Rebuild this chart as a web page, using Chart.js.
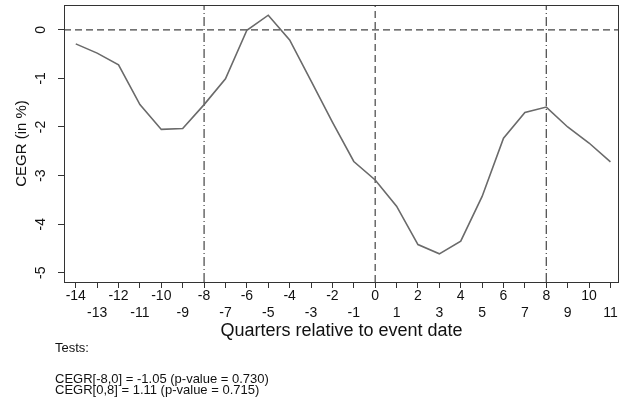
<!DOCTYPE html>
<html>
<head>
<meta charset="utf-8">
<script src="https://cdn.jsdelivr.net/npm/chart.js@4.4.1/dist/chart.umd.min.js"></script>
<style>
  html, body { margin: 0; padding: 0; background: #ffffff; }
  #wrap { width: 621px; height: 408px; }
</style>
</head>
<body>
<div id="wrap"><canvas id="c" width="621" height="408"></canvas></div>
<script>
// ---- data ----
const quarters = [-14,-13,-12,-11,-10,-9,-8,-7,-6,-5,-4,-3,-2,-1,0,1,2,3,4,5,6,7,8,9,10,11];
const cegr = [-0.29,-0.48,-0.72,-1.54,-2.05,-2.03,-1.54,-1.01,-0.01,0.30,-0.21,-1.05,-1.90,-2.71,-3.09,-3.63,-4.42,-4.61,-4.35,-3.43,-2.23,-1.70,-1.59,-2.00,-2.33,-2.72];
const yTicks = [-5,-4,-3,-2,-1,0];
const dashedVLines = [0];
const dashDotVLines = [-8, 8];
const hLines = [0];
const xLabel = 'Quarters relative to event date';
const yLabel = 'CEGR (in %)';
const testLines = ['Tests:', 'CEGR[-8,0] = -1.05 (p-value = 0.730)', 'CEGR[0,8] = 1.11 (p-value = 0.715)'];

const X_MIN = -14.55, X_MAX = 11.4, Y_MIN = -5.19, Y_MAX = 0.51;
const FONT = '"Liberation Sans", Arial, Helvetica, sans-serif';

const refSets = [];
hLines.forEach(v => refSets.push({
  data: [{x: X_MIN, y: v}, {x: X_MAX, y: v}],
  borderColor: '#444', borderWidth: 1.2, borderDash: [7, 4], pointRadius: 0, fill: false
}));
dashedVLines.forEach(v => refSets.push({
  data: [{x: v, y: Y_MIN}, {x: v, y: Y_MAX}],
  borderColor: '#444', borderWidth: 1.2, borderDash: [7, 4], pointRadius: 0, fill: false
}));
dashDotVLines.forEach(v => refSets.push({
  data: [{x: v, y: Y_MIN}, {x: v, y: Y_MAX}],
  borderColor: '#444', borderWidth: 1.2, borderDash: [9, 3, 1, 3], pointRadius: 0, fill: false
}));

const boxPlugin = {
  id: 'box',
  afterDraw(chart) {
    const {ctx, chartArea: a} = chart;
    ctx.save();
    ctx.strokeStyle = '#333';
    ctx.lineWidth = 1;
    ctx.strokeRect(a.left + 0.5, a.top + 0.5, a.right - a.left - 1, a.bottom - a.top);
    ctx.restore();
  }
};

const testsPlugin = {
  id: 'tests',
  afterDraw(chart) {
    const {ctx, chartArea: a} = chart;
    ctx.save();
    ctx.fillStyle = '#111';
    ctx.font = '13px ' + FONT;
    ctx.textBaseline = 'middle';
    ctx.textAlign = 'left';
    const x = a.left - 9;
    ctx.fillText(testLines[0], x, a.bottom + 66);
    ctx.fillText(testLines[1], x, a.bottom + 97);
    ctx.fillText(testLines[2], x, a.bottom + 108);
    ctx.restore();
  }
};

new Chart(document.getElementById('c'), {
  type: 'line',
  data: {
    datasets: [
      {
        data: quarters.map((q, i) => ({x: q, y: cegr[i]})),
        borderColor: '#6a6a6a', borderWidth: 1.6, pointRadius: 0, fill: false, tension: 0
      },
      ...refSets
    ]
  },
  options: {
    responsive: false,
    animation: false,
    devicePixelRatio: 1,
    layout: { padding: { left: 0, right: 2, top: 5, bottom: 66 } },
    plugins: { legend: { display: false }, tooltip: { enabled: false } },
    scales: {
      x: {
        type: 'linear', min: X_MIN, max: X_MAX,
        afterBuildTicks: s => { s.ticks = quarters.map(v => ({value: v})); },
        afterFit: s => { s.height = 60; s.paddingLeft = 0; s.paddingRight = 0; },
        grid: { display: true, drawOnChartArea: false, drawTicks: true, tickLength: 6, color: '#333', lineWidth: 1 },
        border: { display: false },
        ticks: {
          autoSkip: false, maxRotation: 0, minRotation: 0, padding: 0,
          color: '#111', font: { family: FONT, size: 14 },
          callback: v => (Math.abs(v) % 2 === 1) ? ['', String(v)] : String(v)
        },
        title: { display: true, text: xLabel, color: '#111', font: { family: FONT, size: 18 }, padding: { top: 0, bottom: 0 } }
      },
      y: {
        type: 'linear', min: Y_MIN, max: Y_MAX,
        afterBuildTicks: s => { s.ticks = yTicks.map(v => ({value: v})); },
        afterFit: s => { s.width = 64; s.paddingTop = 0; s.paddingBottom = 0; },
        grid: { display: true, drawOnChartArea: false, drawTicks: true, tickLength: 6, color: '#333', lineWidth: 1 },
        border: { display: false },
        ticks: {
          minRotation: 90, maxRotation: 90, crossAlign: 'center', padding: 11,
          color: '#111', font: { family: FONT, size: 14 },
          callback: v => String(v)
        },
        title: { display: true, text: yLabel, color: '#111', font: { family: FONT, size: 15 }, padding: { top: 13, bottom: 0 } }
      }
    }
  },
  plugins: [boxPlugin, testsPlugin]
});
</script>
</body>
</html>
